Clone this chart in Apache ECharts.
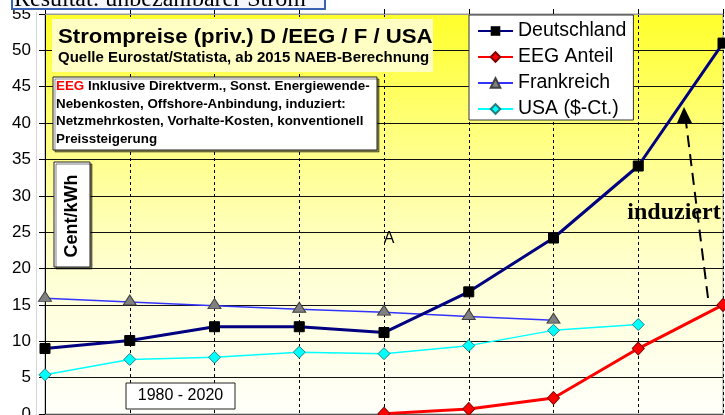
<!DOCTYPE html>
<html><head><meta charset="utf-8">
<script src="https://cdn.jsdelivr.net/npm/echarts@6/dist/echarts.min.js"></script>
<style>html,body{margin:0;padding:0;background:#fff}#c{width:725px;height:415px}</style>
</head><body><div id="c"></div>
<script>
const years = ['1980','1985','1990','1995','2000','2005','2010','2015','2020'];
const deutschland = [9.0, 10.1, 12.0, 12.0, 11.2, 16.8, 24.2, 34.1, 51.0];
const eegAnteil = [null, null, null, null, 0.05, 0.7, 2.2, 9.0, 15.0];
const frankreich = [15.9, 15.4, 14.9, 14.4, 14.0, 13.4, 12.9, null, null];
const usa = [5.4, 7.5, 7.8, 8.5, 8.3, 9.4, 11.5, 12.3, null];
const yTicks = [0,5,10,15,20,25,30,35,40,45,50,55];

const chart = echarts.init(document.getElementById('c'), null, {renderer:'canvas'});
const F = 'Liberation Sans, Arial, sans-serif';
chart.setOption({
  animation:false,
  backgroundColor:'#ffffff',
  grid:{left:45,right:2,top:14,bottom:1,outerBoundsMode:'none',containLabel:false,show:true,borderColor:'#9a9a9a',borderWidth:1,
    backgroundColor:{type:'linear',x:0,y:0,x2:0,y2:1,colorStops:[
      {offset:0,color:'#ffff2a'},{offset:0.35,color:'#ffff8c'},{offset:0.65,color:'#ffffd4'},{offset:1,color:'#fffffa'}]}},
  xAxis:[{type:'category',data:years,boundaryGap:false,position:'bottom',
    axisLine:{lineStyle:{color:'#555',width:1}},axisTick:{show:false},axisLabel:{show:false},
    splitLine:{show:true,lineStyle:{color:'#000',type:[3,3],width:1}}},
    {type:'category',data:years,boundaryGap:false,position:'top',
    axisLine:{show:true,lineStyle:{color:'#9a9a9a'}},axisTick:{show:true,length:5,inside:false,lineStyle:{color:'#000'}},axisLabel:{show:false},splitLine:{show:false}}],
  yAxis:{type:'value',min:0,max:55,interval:5,
    axisLine:{show:true,lineStyle:{color:'#000',width:1}},
    axisTick:{show:true,length:6,lineStyle:{color:'#000'}},
    axisLabel:{color:'#000',fontFamily:F,fontSize:17,margin:14,
      formatter:v=>yTicks.includes(v)?String(v):''},
    splitLine:{show:true,lineStyle:{color:'#111',width:1}}},
  legend:{orient:'vertical',left:469,top:15,padding:[6,7,1,8],itemGap:6,
    itemWidth:35,itemHeight:12,backgroundColor:'#fff',borderColor:'#333',borderWidth:1,
    textStyle:{fontFamily:F,fontSize:19.5,color:'#000',lineHeight:20,padding:[0,0,0,0]},
    data:['Deutschland','EEG Anteil','Frankreich','USA ($-Ct.)']},
  series:[
    {name:'Deutschland',type:'line',data:deutschland,symbol:'rect',symbolSize:10,
      lineStyle:{color:'#000080',width:3},itemStyle:{color:'#000',borderColor:'#000'},color:'#000080',z:5},
    {name:'EEG Anteil',type:'line',data:eegAnteil,symbol:'diamond',symbolSize:[12,13],
      lineStyle:{color:'#ff0000',width:3},itemStyle:{color:'#ff0000',borderColor:'#800000',borderWidth:1},z:5},
    {name:'Frankreich',type:'line',data:frankreich,symbol:'triangle',symbolSize:[13,10],symbolOffset:[0,-2],
      lineStyle:{color:'#3333ff',width:1.5},itemStyle:{color:'#808080',borderColor:'#404040',borderWidth:1},z:4},
    {name:'USA ($-Ct.)',type:'line',data:usa,symbol:'diamond',symbolSize:[12,12],
      lineStyle:{color:'#00ffff',width:1.5},itemStyle:{color:'#00ffff',borderColor:'#208080',borderWidth:1},z:4}
  ],
  graphic:[
    {type:'line',shape:{x1:36.5,y1:12,x2:36.5,y2:415},style:{stroke:'#d8d8d8',lineWidth:1},z:1},
    {type:'rect',shape:{x:12,y:-30,width:313,height:39},style:{fill:'#f4f6fb',stroke:'#3a62b0',lineWidth:2},z:100},
    {type:'text',x:14,y:12,style:{text:'Resultat: unbezahlbarer Strom',font:'24px "Liberation Serif", "Times New Roman", serif',fill:'#000',verticalAlign:'bottom'},z:101},
    {type:'rect',shape:{x:12,y:-30,width:313,height:39},style:{fill:'none',stroke:'#3a62b0',lineWidth:2},z:102},
    {type:'rect',shape:{x:52,y:19,width:381,height:53},style:{fill:'#ffffc4'},z:100},
    {type:'text',x:58,y:27,scaleX:1.11,style:{text:'Strompreise (priv.) D /EEG / F / USA',font:'bold 20px '+F,fill:'#000'},z:101},
    {type:'text',x:58,y:51,scaleX:1.07,style:{text:'Quelle Eurostat/Statista, ab 2015 NAEB-Berechnung',font:'bold 14px '+F,fill:'#000'},z:101},
    {type:'rect',shape:{x:53,y:77,width:324,height:73},style:{fill:'#fff',stroke:'#222',lineWidth:1,shadowColor:'rgba(0,0,0,0.45)',shadowOffsetX:2,shadowOffsetY:2,shadowBlur:0},z:100},
    {type:'text',x:56,y:80,scaleX:1.07,style:{rich:{r:{fill:'#ff0000',font:'bold 12.5px '+F},b:{fill:'#000',font:'bold 12.5px '+F}},
      text:'{r|EEG}{b| Inklusive Direktverm., Sonst. Energiewende-}',fill:'#000'},z:101},
    {type:'text',x:56,y:98,scaleX:1.07,style:{text:'Nebenkosten, Offshore-Anbindung, induziert:',font:'bold 12.5px '+F,fill:'#000'},z:101},
    {type:'text',x:56,y:115,scaleX:1.07,style:{text:'Netzmehrkosten, Vorhalte-Kosten, konventionell',font:'bold 12.5px '+F,fill:'#000'},z:101},
    {type:'text',x:56,y:133,scaleX:1.07,style:{text:'Preissteigerung',font:'bold 12.5px '+F,fill:'#000'},z:101},
    {type:'rect',shape:{x:54,y:162,width:36,height:105},style:{fill:'#fff',stroke:'#222',lineWidth:1,shadowColor:'rgba(0,0,0,0.5)',shadowOffsetX:2,shadowOffsetY:2,shadowBlur:0},z:100},
    {type:'text',x:72,y:216,rotation:Math.PI/2,style:{text:'Cent/kWh',font:'bold 18px '+F,fill:'#000',align:'center',verticalAlign:'middle'},z:101},
    {type:'rect',shape:{x:126,y:383,width:109,height:26},style:{fill:'#fff',stroke:'#222',lineWidth:1},z:100},
    {type:'text',x:180.5,y:396,style:{text:'1980 - 2020',font:'16px '+F,fill:'#000',align:'center',verticalAlign:'middle'},z:101},
    {type:'text',x:389,y:239,style:{text:'A',font:'16px '+F,fill:'#000',align:'center',verticalAlign:'middle'},z:101},
    {type:'text',x:674,y:213,style:{text:'induziert',font:'bold 24px "Liberation Serif", "Times New Roman", serif',fill:'#000',align:'center',verticalAlign:'middle'},z:101},
    {type:'line',shape:{x1:708,y1:298,x2:686,y2:122},style:{stroke:'#000',lineWidth:2,lineDash:[12,7]},z:101},
    {type:'polygon',shape:{points:[[684,107],[677,123],[692,123]]},style:{fill:'#000'},z:101}
  ]
});
</script></body></html>
